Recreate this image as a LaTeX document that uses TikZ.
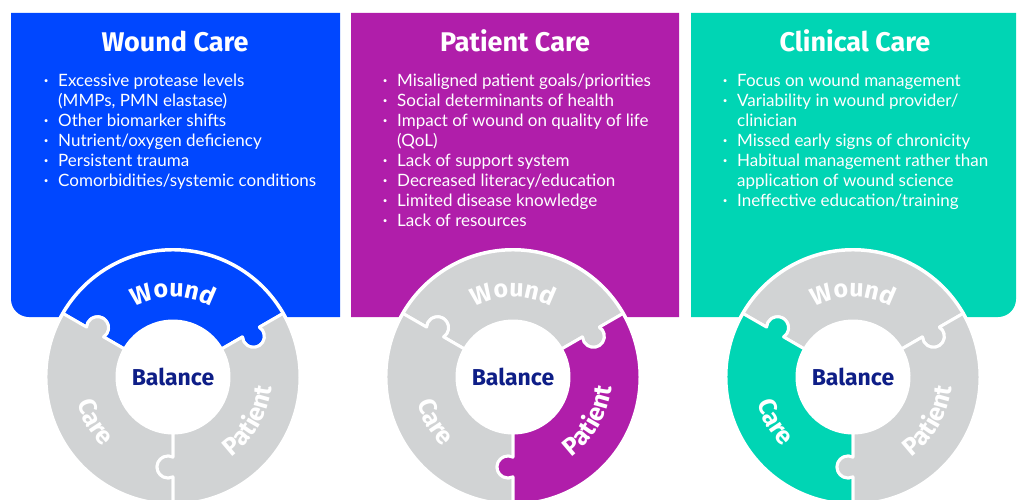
\documentclass[tikz,border=0pt]{standalone}
\usepackage{fontspec}
\setmainfont{Lato}
\newfontfamily\headfont{Fira Sans}
\usetikzlibrary{decorations.text}
\definecolor{woundblue}{RGB}{0,71,255}
\definecolor{patientpurple}{RGB}{176,30,170}
\definecolor{clinicalteal}{RGB}{0,213,180}
\definecolor{ringgray}{RGB}{209,211,212}
\definecolor{balancenavy}{RGB}{14,30,135}
\newcommand{\itembul}{\makebox[6pt]{\raisebox{3pt}{\fontsize{8}{8}\selectfont\textbullet}}}
\tikzset{
  paneltitle/.style={anchor=base, text=white, inner sep=0pt, font=\headfont\bfseries\fontsize{27}{27}\selectfont},
  bulletlist/.style={anchor=north west, text=white, inner sep=0pt, font=\fontsize{17}{20}\selectfont},
  piece/.style={draw=white, line width=3pt, line join=round},
  hub/.style={circle, fill=white, minimum size=112pt, inner sep=0pt, text=balancenavy, font=\headfont\bfseries\fontsize{23}{23}\selectfont},
  ringlabel/.style={decorate, decoration={text along path, text align=center, text color=white,
    text={|\headfont\bfseries\fontsize{25}{25}\selectfont|#1}}}
}
\begin{document}
\begin{tikzpicture}[x=1pt,y=1pt]
\useasboundingbox (0,0) rectangle (1017,499);
\clip (0,0) rectangle (1017,499);
% panels, rounded only at the outer bottom corners
\foreach \cx/\col/\hl/\rl/\rr/\xr in {173/woundblue/30/18/0.01/167, 513/patientpurple/270/0.01/0.01/166, 853/clinicalteal/150/0.01/18/163}{
  \fill[\col] (\cx-162,486) -- (\cx+\xr,486) -- (\cx+\xr,182+\rr) arc[start angle=0, end angle=-90, radius=\rr]
    -- (\cx-162+\rl,182) arc[start angle=270, end angle=180, radius=\rl] -- cycle;
  \begin{scope}[shift={(\cx,122)}]
    \fill[white] (0,0) circle[radius=129];
    \foreach \a in {30,150,270}{
      \ifnum\a=\hl\relax\def\pc{\col}\else\def\pc{ringgray}\fi
      \filldraw[piece, fill=\pc] (\a:56) -- (\a:80.2) arc[start angle=\a+153, end angle=\a+387, radius=11]
        -- (\a:127) arc[start angle=\a, end angle=\a+120, radius=127]
        -- ({\a+120}:99.8) arc[start angle=\a+147, end angle=\a-87, radius=11]
        -- ({\a+120}:56) arc[start angle=\a+120, end angle=\a, radius=56] -- cycle;
    }
    \node[hub] (balance-\cx) at (0,0) {Balance};
    \path[ringlabel=Wound] (150:80) arc[start angle=150, end angle=30, radius=80];
    \path[ringlabel=Care] (150:99) arc[start angle=150, end angle=270, radius=99];
    \path[ringlabel=Patient] (-90:99) arc[start angle=-90, end angle=30, radius=99];
  \end{scope}
}
\node[paneltitle] (woundtitle) at (175,447) {Wound Care};
\node[paneltitle] (patienttitle) at (515,447) {Patient Care};
\node[paneltitle] (clinicaltitle) at (855,447) {Clinical Care};
\node[bulletlist] (woundlist) at (43,427) {\begin{tabular}{@{}c@{\hspace{9pt}}l@{}}
  \itembul & Excessive protease levels\\
  & (MMPs, PMN elastase)\\
  \itembul & Other biomarker shifts\\
  \itembul & Nutrient/oxygen deficiency\\
  \itembul & Persistent trauma\\
  \itembul & Comorbidities/systemic conditions
\end{tabular}};
\node[bulletlist] (patientlist) at (382,427) {\begin{tabular}{@{}c@{\hspace{9pt}}l@{}}
  \itembul & Misaligned patient goals/priorities\\
  \itembul & Social determinants of health\\
  \itembul & Impact of wound on quality of life\\
  & (QoL)\\
  \itembul & Lack of support system\\
  \itembul & Decreased literacy/education\\
  \itembul & Limited disease knowledge\\
  \itembul & Lack of resources
\end{tabular}};
\node[bulletlist] (clinicallist) at (722,427) {\begin{tabular}{@{}c@{\hspace{9pt}}l@{}}
  \itembul & Focus on wound management\\
  \itembul & Variability in wound provider/\\
  & clinician\\
  \itembul & Missed early signs of chronicity\\
  \itembul & Habitual management rather than\\
  & application of wound science\\
  \itembul & Ineffective education/training
\end{tabular}};
\end{tikzpicture}
\end{document}
